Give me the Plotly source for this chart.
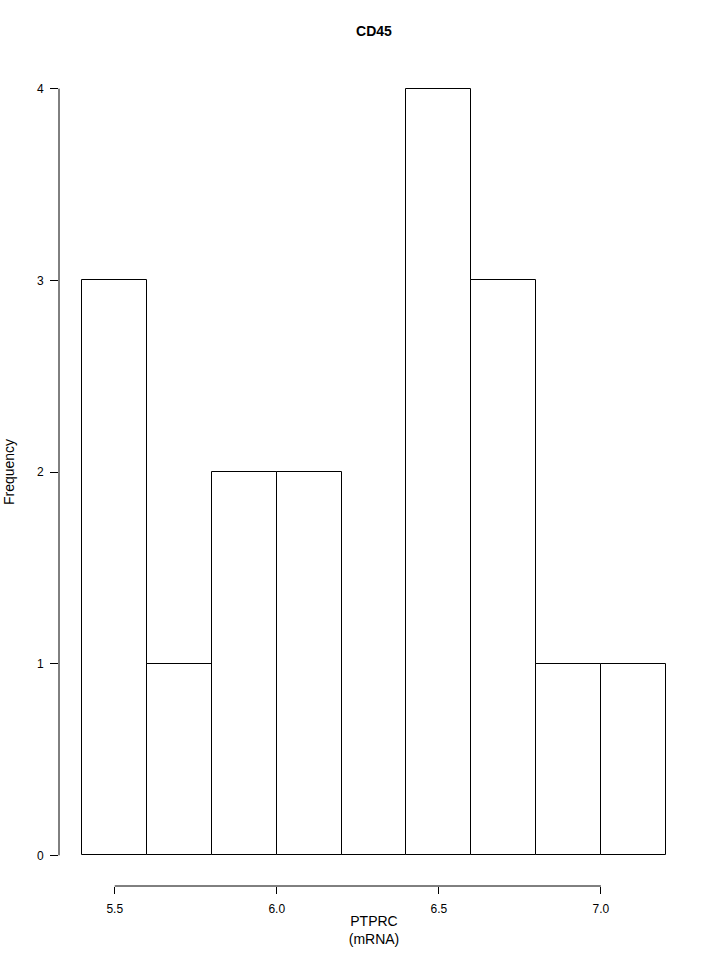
import plotly.graph_objects as go

bin_edges = [5.4, 5.6, 5.8, 6.0, 6.2, 6.4, 6.6, 6.8, 7.0, 7.2]
counts = [3, 1, 2, 2, 0, 4, 3, 1, 1]
x_ticks = [5.5, 6.0, 6.5, 7.0]
x_tick_labels = ["5.5", "6.0", "6.5", "7.0"]
y_ticks = [0, 1, 2, 3, 4]
title_text = "CD45"
x_title = "PTPRC<br>(mRNA)"
y_title = "Frequency"

centers = [(a + b) / 2 for a, b in zip(bin_edges[:-1], bin_edges[1:])]
widths = [b - a for a, b in zip(bin_edges[:-1], bin_edges[1:])]

xr = bin_edges[-1] - bin_edges[0]
x_range = [bin_edges[0] - 0.04 * xr, bin_edges[-1] + 0.04 * xr]
ymax = max(counts)
y_range = [-0.04 * ymax, ymax * 1.04]

font = dict(family="Liberation Sans, Arial, sans-serif", size=12, color="black")

fig = go.Figure(go.Bar(
    x=centers, y=counts, width=widths,
    marker=dict(color="white", line=dict(color="black", width=1)),
    hoverinfo="x+y",
))

fig.update_layout(
    width=720, height=960,
    margin=dict(l=59, r=31, t=58, b=74, autoexpand=False),
    plot_bgcolor="white", paper_bgcolor="white",
    font=font,
    showlegend=False,
    bargap=0,
    title=dict(text="<b>" + title_text + "</b>", x=0.5, xref="paper", xanchor="center",
               y=1 - 31 / 960, yanchor="middle", font=dict(size=14, color="black", family=font["family"])),
    xaxis=dict(range=x_range, tickvals=x_ticks, ticktext=x_tick_labels,
               ticks="outside", ticklen=7, tickwidth=1, tickcolor="black",
               ticklabelstandoff=5, automargin=False,
               showgrid=False, zeroline=False, showline=False,
               title=dict(text=x_title, standoff=0)),
    yaxis=dict(range=y_range, tickvals=y_ticks,
               ticks="outside", ticklen=8, tickwidth=1, tickcolor="black",
               ticklabelstandoff=4, automargin=False,
               showgrid=False, zeroline=False, showline=False,
               title=dict(text=y_title, standoff=19)),
    shapes=[
        dict(type="line", xref="x", yref="paper", x0=min(x_ticks), x1=max(x_ticks), y0=0, y1=0,
             line=dict(color="black", width=1)),
        dict(type="line", xref="paper", yref="y", x0=0, x1=0, y0=min(y_ticks), y1=max(y_ticks),
             line=dict(color="black", width=1)),
    ],
)

fig.write_html("out.html", config={"displayModeBar": False},
               post_script="document.body.style.margin='0';")
